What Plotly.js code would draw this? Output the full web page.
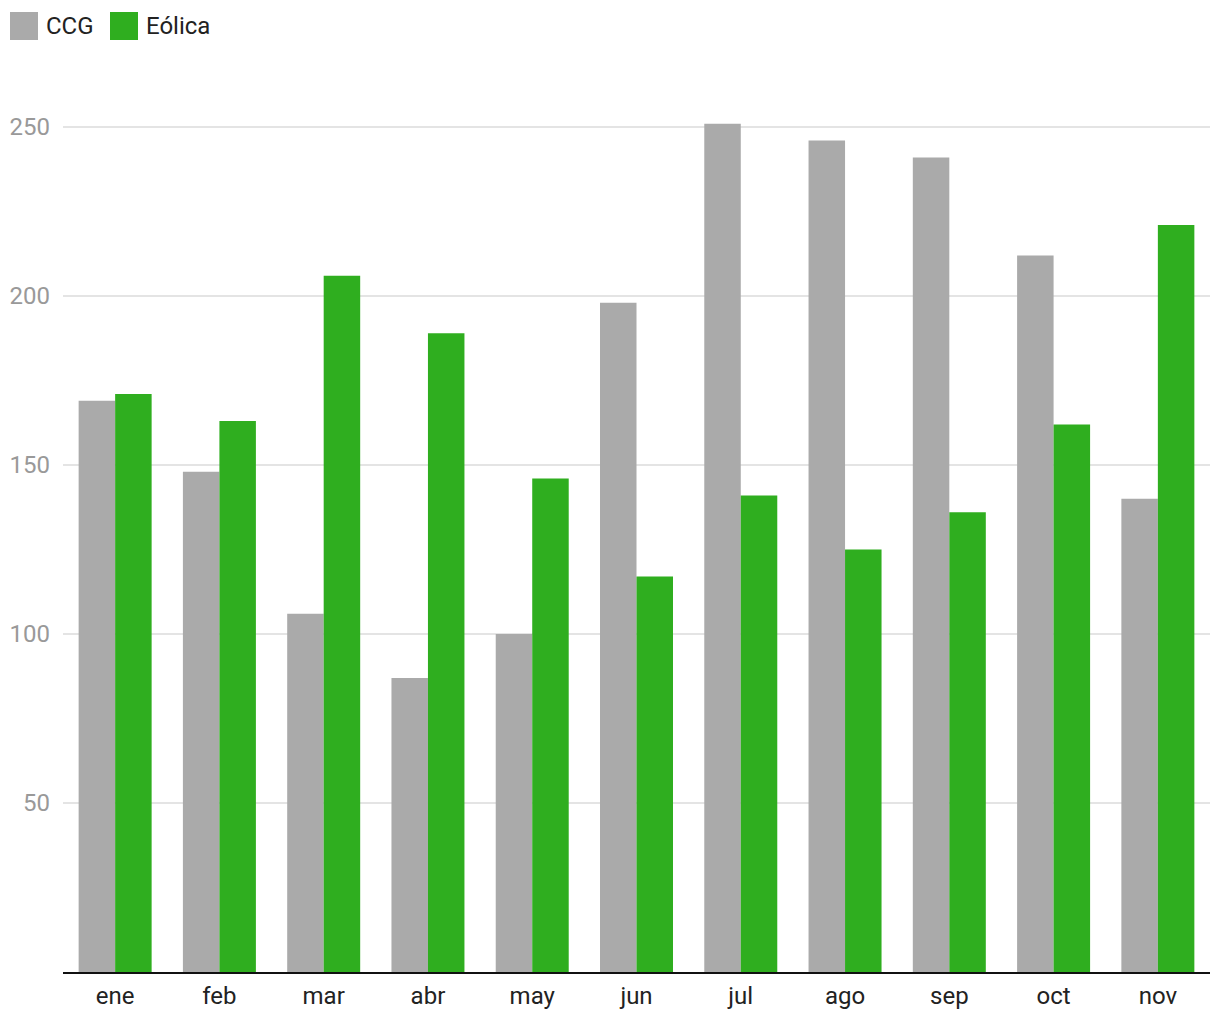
<!DOCTYPE html>
<html>
<head>
<meta charset="utf-8">
<script src="https://cdn.plot.ly/plotly-3.0.1.min.js"></script>
<style>html,body{margin:0;padding:0;background:#fff;}#chart{width:1220px;height:1020px;}</style>
</head>
<body>
<div id="chart"></div>
<script>
const months = ["ene","feb","mar","abr","may","jun","jul","ago","sep","oct","nov"];
const ccg = [169,148,106,87,100,198,251,246,241,212,140];
const eolica = [171,163,206,189,146,117,141,125,136,162,221];
const yTicks = [50,100,150,200,250];
const seriesNames = ["CCG","Eólica"];
const colors = ["#aaaaaa","#2fae1f"];

const traces = [
  {type:"bar", x:months, y:ccg, name:seriesNames[0], marker:{color:colors[0]}, showlegend:false},
  {type:"bar", x:months, y:eolica, name:seriesNames[1], marker:{color:colors[1]}, showlegend:false}
];

const plotL = 63, plotW = 1147, plotT = 100, plotH = 872;
const layout = {
  width:1220, height:1020,
  margin:{l:plotL, r:1220-plotL-plotW, t:plotT, b:1020-plotT-plotH},
  paper_bgcolor:"#fff", plot_bgcolor:"#fff",
  font:{family:"Roboto, sans-serif", size:24, color:"#222"},
  barmode:"group", bargap:0.3, bargroupgap:0,
  xaxis:{
    type:"category", showgrid:false, zeroline:false,
    showline:true, linecolor:"#111", linewidth:2,
    tickfont:{family:"Roboto, sans-serif", size:24, color:"#222"},
    ticks:"", ticklabelstandoff:1
  },
  yaxis:{
    range:[0,258], tickvals:yTicks, ticktext:yTicks.map(String),
    showgrid:true, gridcolor:"#e4e4e4", gridwidth:1.5, zeroline:false, showline:false,
    tickfont:{family:"Roboto, sans-serif", size:24, color:"#999"},
    ticks:"", ticklabelstandoff:12
  },
  shapes:[],
  annotations:[]
};

// custom legend (pixel positions converted to paper coordinates)
function px(x){return (x-plotL)/plotW;}
function py(y){return (plotT+plotH-y)/plotH;}
const legendX = [10,110];
seriesNames.forEach((n,i)=>{
  layout.shapes.push({type:"rect", xref:"paper", yref:"paper",
    x0:px(legendX[i]), x1:px(legendX[i]+28), y0:py(40), y1:py(12),
    line:{width:0}, fillcolor:colors[i]});
  layout.annotations.push({xref:"paper", yref:"paper", x:px(legendX[i]+34), y:py(26),
    xanchor:"left", yanchor:"middle", text:n, showarrow:false,
    font:{family:"Roboto, sans-serif", size:24, color:"#222"}});
});

Plotly.newPlot("chart", traces, layout, {displayModeBar:false, staticPlot:true});
</script>
</body>
</html>
